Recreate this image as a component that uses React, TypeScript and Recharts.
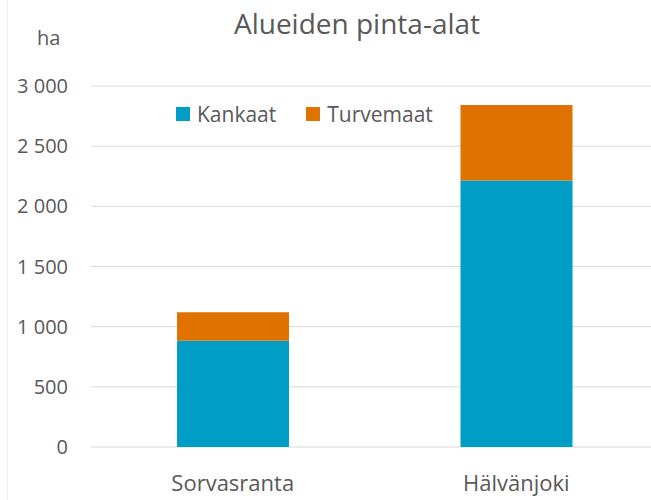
import React from 'react';
import { BarChart, Bar, XAxis, YAxis, CartesianGrid, Legend } from 'recharts';

// Area per region (ha)
const AREAS = ['Sorvasranta', 'Hälvänjoki'];
const KANKAAT = [884, 2214];
const TURVEMAAT = [236, 629];
const Y_TICKS = [0, 500, 1000, 1500, 2000, 2500, 3000];

const BLUE = '#009ec6';
const ORANGE = '#e07300';
const TEXT = '#595959';
const FONT = '"Open Sans", sans-serif';

const chartData = AREAS.map((name, i) => ({
  name,
  Kankaat: KANKAAT[i],
  Turvemaat: TURVEMAAT[i],
}));

const fmt = (v: number) => (v >= 1000 ? `${Math.floor(v / 1000)} ${String(v % 1000).padStart(3, '0')}` : String(v));

function LegendBox() {
  const items = [
    { label: 'Kankaat', color: BLUE },
    { label: 'Turvemaat', color: ORANGE },
  ];
  return (
    <div style={{ display: 'flex', alignItems: 'center', fontFamily: FONT, fontSize: 21, color: TEXT }}>
      {items.map((it) => (
        <div key={it.label} style={{ display: 'flex', alignItems: 'center', marginRight: 30 }}>
          <span style={{ width: 14, height: 14, background: it.color, marginRight: 7, display: 'inline-block' }} />
          <span>{it.label}</span>
        </div>
      ))}
    </div>
  );
}

export default function App() {
  return (
    <div style={{ position: 'absolute', left: 0, top: 0, width: 651, height: 500, overflow: 'hidden', background: '#fff', fontFamily: FONT }}>
      {/* faint chart-area border on the left */}
      <div style={{ position: 'absolute', left: 7, top: 0, width: 1, height: 500, background: '#eeeeee' }} />
      <div style={{ position: 'absolute', left: 0, top: 4, width: 714, textAlign: 'center', fontSize: 28, color: TEXT }}>
        Alueiden pinta-alat
      </div>
      <div style={{ position: 'absolute', left: 37, top: 24, fontSize: 20, color: TEXT }}>ha</div>
      <BarChart width={660} height={500} data={chartData} margin={{ top: 86, right: 2, bottom: 0, left: 0 }}>
        <CartesianGrid vertical={false} stroke="#d9d9d9" />
        <XAxis
          dataKey="name"
          axisLine={false}
          tickLine={false}
          tickSize={0}
          tickMargin={28}
          height={53}
          tick={{ fill: TEXT, fontSize: 22, fontFamily: FONT }}
        />
        <YAxis
          domain={[0, 3000]}
          ticks={Y_TICKS}
          axisLine={false}
          tickLine={false}
          tickSize={0}
          tickMargin={23}
          width={91}
          tickFormatter={fmt}
          tick={{ fill: TEXT, fontSize: 20, fontFamily: FONT }}
        />
        <Legend
          layout="horizontal"
          verticalAlign="middle"
          align="center"
          content={() => <LegendBox />}
          wrapperStyle={{ top: 100, left: 176, width: 330 }}
        />
        <Bar dataKey="Kankaat" stackId="a" fill={BLUE} barSize={112} isAnimationActive={false} />
        <Bar dataKey="Turvemaat" stackId="a" fill={ORANGE} barSize={112} isAnimationActive={false} />
      </BarChart>
    </div>
  );
}
